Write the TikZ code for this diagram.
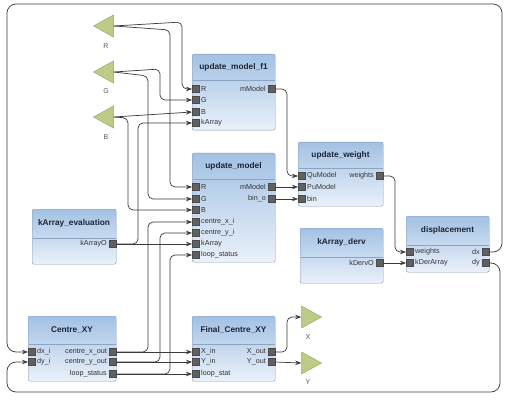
\documentclass[tikz,border=0pt]{standalone}
\usepackage{fontspec}
\setmainfont{Liberation Sans}
\usetikzlibrary{shapes.geometric,arrows.meta}
\definecolor{bordc}{HTML}{8299B4}
\definecolor{btop}{HTML}{A3C1E4}
\definecolor{bbot}{HTML}{EAF1FA}
\definecolor{sepc}{HTML}{8DA4BE}
\definecolor{portc}{HTML}{606060}
\definecolor{portd}{HTML}{4A4A4A}
\definecolor{wirec}{HTML}{3A3A3A}
\definecolor{trif}{HTML}{BCCB86}
\definecolor{trid}{HTML}{9AAB5C}
\definecolor{titc}{HTML}{1E2433}
\definecolor{lblc}{HTML}{333333}
\definecolor{tlc}{HTML}{555555}
\tikzset{
  blockbody/.style={draw=bordc, rounded corners=2pt, top color=btop, bottom color=bbot, inner sep=0pt},
  sepline/.style={draw=sepc, line width=0.6pt},
  titletext/.style={font=\bfseries\fontsize{8.3}{10}\selectfont, text=titc, inner sep=0pt},
  portsq/.style={fill=portc, draw=portd, line width=0.3pt, minimum size=7pt, inner sep=0pt},
  portlbl/.style={font=\fontsize{7.2}{8}\selectfont, text=lblc, inner sep=0pt},
  tri/.style={isosceles triangle, isosceles triangle stretches, minimum width=22pt, minimum height=20pt, inner sep=0pt, fill=trif, draw=trid, line width=0.5pt},
  trilbl/.style={font=\fontsize{7}{8}\selectfont, text=tlc, inner sep=0pt},
  wire/.style={draw=wirec, line width=0.7pt, rounded corners=5pt, -{Stealth[length=6pt,width=4.5pt]}},
  bigwire/.style={draw=wirec, line width=0.7pt, rounded corners=9pt, -{Stealth[length=6pt,width=4.5pt]}}
}
\newcommand\mkblock[7]{%
  \node[blockbody, minimum width={(#4-#2)*1pt}, minimum height={(#5-#3)*1pt}, anchor=north west] (#1) at (#2,#3) {};
  \draw[sepline] ({#2+0.5},#6) -- ({#4-0.5},#6);
  \node[titletext] (#1t) at ({(#2+#4)/2},{(#3+#6)/2}) {#7};
}
\newcommand\inport[4]{%
  \node[portsq, anchor=west] (#1) at (#2,#3) {};
  \node[portlbl, anchor=west] (#1l) at ({#2+9},#3) {#4};
}
\newcommand\outport[4]{%
  \node[portsq, anchor=east] (#1) at (#2,#3) {};
  \node[portlbl, anchor=east] (#1l) at ({#2-9},#3) {#4};
}
\begin{document}
\begin{tikzpicture}[x=1pt,y=-1pt]
\useasboundingbox (0,0) rectangle (508,414);
\fill[white] (0,0) rectangle (508,414);

% input triangles
\node[tri, shape border rotate=180] (R) at (107,26) {};
\node[trilbl] (Rl) at (106,46) {R};
\node[tri, shape border rotate=180] (G) at (107,72) {};
\node[trilbl] (Gl) at (106,91) {G};
\node[tri, shape border rotate=180] (B) at (107,117) {};
\node[trilbl] (Bl) at (106,137) {B};
% output triangles
\node[tri] (X) at (308,317) {};
\node[trilbl] (Xl) at (308,337) {X};
\node[tri] (Y) at (308,363) {};
\node[trilbl] (Yl) at (308,382) {Y};

% blocks
\mkblock{f1}{192}{54}{275}{130}{80}{update\_model\_f1}
\inport{f1R}{192}{89}{R}
\inport{f1G}{192}{100}{G}
\inport{f1B}{192}{112}{B}
\inport{f1K}{192}{123}{kArray}
\outport{f1M}{275}{89}{mModel}

\mkblock{um}{192}{153}{275}{262}{179}{update\_model}
\inport{umR}{192}{187}{R}
\inport{umG}{192}{199}{G}
\inport{umB}{192}{210}{B}
\inport{umX}{192}{222}{centre\_x\_i}
\inport{umY}{192}{233}{centre\_y\_i}
\inport{umK}{192}{244}{kArray}
\inport{umL}{192}{255}{loop\_status}
\outport{umM}{275}{187}{mModel}
\outport{umBo}{275}{199}{bin\_o}

\mkblock{uw}{298}{142}{383}{206}{168}{update\_weight}
\inport{uwQ}{298}{176}{QuModel}
\inport{uwP}{298}{187}{PuModel}
\inport{uwB}{298}{199}{bin}
\outport{uwW}{383}{176}{weights}

\mkblock{ke}{32}{209}{116}{264}{238}{kArray\_evaluation}
\outport{keO}{116}{244}{kArrayO}

\mkblock{kd}{300}{228}{383}{283}{257}{kArray\_derv}
\outport{kdO}{383}{263}{kDervO}

\mkblock{dp}{406}{216}{489}{272}{245}{displacement}
\inport{dpW}{406}{252}{weights}
\inport{dpK}{406}{263}{kDerArray}
\outport{dpX}{489}{252}{dx}
\outport{dpY}{489}{263}{dy}

\mkblock{cx}{28}{316}{116}{381}{344}{Centre\_XY}
\inport{cxX}{28}{352}{dx\_i}
\inport{cxY}{28}{362}{dy\_i}
\outport{cxXo}{116}{352}{centre\_x\_out}
\outport{cxYo}{116}{362}{centre\_y\_out}
\outport{cxL}{116}{374}{loop\_status}

\mkblock{fc}{192}{316}{275}{381}{344}{Final\_Centre\_XY}
\inport{fcX}{192}{352}{X\_in}
\inport{fcY}{192}{362}{Y\_in}
\inport{fcL}{192}{374}{loop\_stat}
\outport{fcXo}{275}{352}{X\_out}
\outport{fcYo}{275}{362}{Y\_out}

% wires from R, G, B
\draw[wire] (R.east) -- (182,22) -- (182,89) -- (f1R.west);
\draw[wire] (R.east) -- (170,30) -- (170,187) -- (umR.west);
\draw[wire] (G.east) -- (160,69) -- (160,100) -- (f1G.west);
\draw[wire] (G.east) -- (148,76) -- (148,199) -- (umG.west);
\draw[wire] (B.east) -- (f1B.west);
\draw[wire] (B.east) -- (128,118) -- (128,210) -- (umB.west);
% kArray
\draw[wire] (keO.east) -- (138,244) -- (138,123) -- (f1K.west);
\draw[wire] (keO.east) -- (umK.west);
% centre outputs
\draw[wire] (cxXo.east) -- (148,352) -- (148,222) -- (umX.west);
\draw[wire] (cxYo.east) -- (160,362) -- (160,233) -- (umY.west);
\draw[wire] (cxL.east) -- (170,374) -- (170,255) -- (umL.west);
\draw[wire] (cxXo.east) -- (fcX.west);
\draw[wire] (cxYo.east) -- (fcY.west);
\draw[wire] (cxL.east) -- (fcL.west);
% model to weight
\draw[wire] (f1M.east) -- (287,89) -- (287,176) -- (uwQ.west);
\draw[wire] (umM.east) -- (uwP.west);
\draw[wire] (umBo.east) -- (uwB.west);
\draw[wire] (uwW.east) -- (395,176) -- (395,252) -- (dpW.west);
\draw[wire] (kdO.east) -- (dpK.west);
% outputs
\draw[wire] (fcXo.east) -- (287,352) -- (287,317) -- (X.west);
\draw[wire] (fcYo.east) -- (Y.west);
% feedback
\draw[bigwire] (dpX.east) -- (502,252) -- (502,4) -- (7,4) -- (7,352) -- (cxX.west);
\draw[bigwire] (dpY.east) -- (500,263) -- (500,392) -- (7,392) -- (7,362) -- (cxY.west);
\end{tikzpicture}
\end{document}
